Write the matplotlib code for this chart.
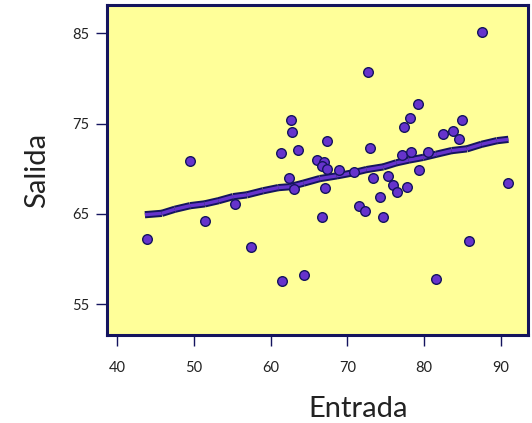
import matplotlib
matplotlib.use('Agg')
import matplotlib.pyplot as plt

# scatter data
entrada = [87.6, 72.7, 79.2, 62.6, 78.2, 85.0, 62.8, 77.4, 82.5, 83.8,
           84.5, 67.3, 49.5, 61.3, 63.6, 72.9, 77.1, 78.3, 80.5, 66.0,
           66.9, 66.7, 67.4, 68.9, 70.9, 62.4, 63.1, 67.1, 73.3, 75.3,
           76.0, 76.5, 77.8, 74.3, 79.4, 91.0, 71.5, 72.3, 66.7, 74.7,
           43.9, 51.5, 55.3, 57.5, 61.5, 64.4, 81.6, 85.9]
salida = [85.1, 80.7, 77.2, 75.4, 75.6, 75.4, 74.1, 74.6, 73.8, 74.2,
          73.3, 73.1, 70.8, 71.7, 72.1, 72.3, 71.5, 71.9, 71.9, 71.0,
          70.7, 70.3, 70.0, 69.8, 69.6, 69.0, 67.7, 67.9, 69.0, 69.2,
          68.2, 67.4, 68.0, 66.9, 69.8, 68.4, 65.9, 65.3, 64.7, 64.7,
          62.2, 64.2, 66.1, 61.3, 57.6, 58.2, 57.8, 62.0]

# smoothed fit line
fit_x = [43.6, 45.8, 47.5, 49.5, 51.4, 53.2, 55.1, 56.9, 59.0, 61.0,
         62.5, 64.3, 66.4, 68.6, 70.8, 72.5, 74.7, 76.4, 78.0, 79.9,
         81.6, 83.6, 85.6, 87.5, 89.5, 91.0]
fit_y = [64.9, 65.05, 65.5, 65.9, 66.1, 66.45, 66.9, 67.1, 67.55, 67.9,
         68.0, 68.4, 68.9, 69.2, 69.55, 69.9, 70.2, 70.65, 70.95, 71.25,
         71.6, 72.0, 72.2, 72.7, 73.1, 73.25]

xticks = [40, 50, 60, 70, 80, 90]
yticks = [55, 65, 75, 85]

navy = '#14145e'
purple = '#6633cc'

plt.rcParams['font.family'] = ['Lato', 'DejaVu Sans']

fig = plt.figure(figsize=(5.32, 4.23), dpi=100)
ax = fig.add_axes([0.2011, 0.208, 0.7914, 0.779])
ax.set_facecolor('#ffff99')

# line drawn piece by piece so every piece gets its own outline
for i in range(len(fit_x) - 1):
    xs = fit_x[i:i + 2]
    ys = fit_y[i:i + 2]
    ax.plot(xs, ys, color=navy, lw=5.2, solid_capstyle='butt', zorder=3)
    ax.plot(xs, ys, color=purple, lw=2.4, solid_capstyle='butt', zorder=3)

ax.scatter(entrada, salida, s=48, c=purple, edgecolors=navy,
           linewidths=1.0, zorder=4)

ax.set_xlim(38.66, 93.56)
ax.set_ylim(51.57, 88.08)
ax.set_xticks(xticks)
ax.set_yticks(yticks)
ax.tick_params(direction='out', length=8, width=1, color=navy,
               labelsize=10.5, labelcolor='#222222')
ax.tick_params(axis='y', pad=5)
ax.tick_params(axis='x', pad=11)

for sp in ax.spines.values():
    sp.set_color(navy)
    sp.set_linewidth(2.2)

ax.set_xlabel('Entrada', fontsize=21, color='#222222', va='center')
ax.set_ylabel('Salida', fontsize=21, color='#222222', va='center')
ax.xaxis.set_label_coords(0.596, -0.2246)
ax.yaxis.set_label_coords(-0.166, 0.5)

plt.savefig('out.png', dpi=100)
